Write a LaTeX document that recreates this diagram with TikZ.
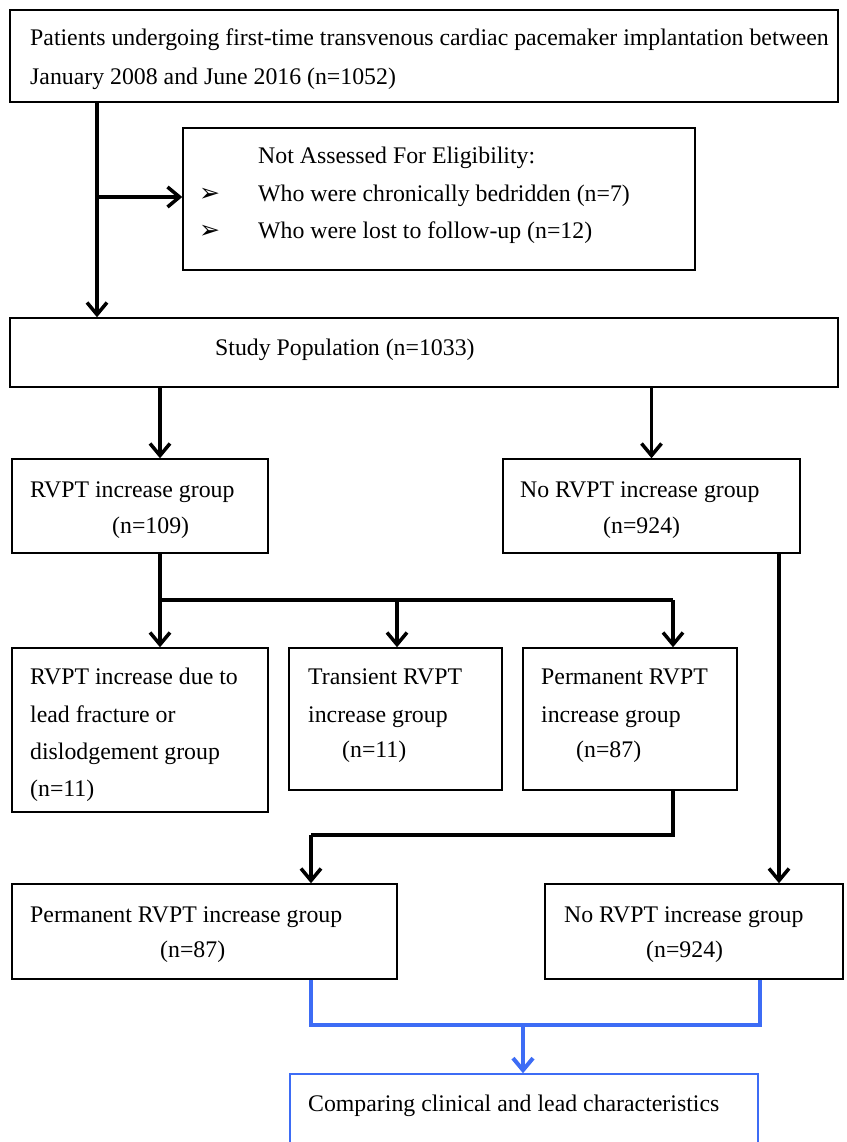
\documentclass[tikz,border=0pt]{standalone}
\usepackage{fontspec}
\setmainfont{Liberation Serif}
\newfontfamily\symfont{DejaVu Sans}
\usetikzlibrary{arrows.meta}
\definecolor{flowblue}{RGB}{61,108,245}
\begin{document}
\begin{tikzpicture}[x=1pt,y=-1pt,
  box/.style={draw=black,line width=1.5pt,inner sep=0pt,fill=white},
  txt/.style={anchor=base west,inner sep=0pt,font=\fontsize{23.8}{28}\selectfont},
  bul/.style={anchor=base west,inner sep=0pt,font=\symfont\fontsize{25}{28}\selectfont},
  arr/.style={line width=3.5pt,-{Straight Barb[length=12pt,width=20pt,line width=3.5pt]}},
  ln/.style={line width=3.5pt},
  barr/.style={line width=4pt,draw=flowblue,-{Straight Barb[length=12pt,width=20pt,line width=4pt]}},
  bln/.style={line width=4pt,draw=flowblue}]
\clip (0,0) rectangle (846,1142);
\fill[white] (0,0) rectangle (846,1142);

% boxes
\node[box,minimum width=828pt,minimum height=92pt] (b1) at (424,56) {};
\node[box,minimum width=512pt,minimum height=142pt] (b2) at (439,199) {};
\node[box,minimum width=828pt,minimum height=69pt] (b3) at (424,352.5) {};
\node[box,minimum width=256pt,minimum height=94pt] (rv) at (140,506) {};
\node[box,minimum width=297pt,minimum height=94pt] (norv) at (651.5,506) {};
\node[box,minimum width=256pt,minimum height=164pt] (ga) at (140,730) {};
\node[box,minimum width=213pt,minimum height=142pt] (gb) at (395.5,719) {};
\node[box,minimum width=214pt,minimum height=142pt] (gc) at (630,719) {};
\node[box,minimum width=385pt,minimum height=95pt] (gd) at (204.5,931.5) {};
\node[box,minimum width=298pt,minimum height=95pt] (ge) at (694,931.5) {};
\node[box,draw=flowblue,minimum width=468pt,minimum height=100pt] (gf) at (524,1124) {};

% texts
\node[txt] (t1a) at (30,46) {Patients undergoing first-time transvenous cardiac pacemaker implantation between};
\node[txt] (t1b) at (30,85) {January 2008 and June 2016 (n=1052)};
\node[txt] (t2a) at (258,164) {Not Assessed For Eligibility:};
\node[bul] (bu1) at (199,201) {➢};
\node[txt] (t2b) at (258,201) {Who were chronically bedridden (n=7)};
\node[bul] (bu2) at (199,238) {➢};
\node[txt] (t2c) at (258,238) {Who were lost to follow-up (n=12)};
\node[txt] (t3) at (215,355) {Study Population (n=1033)};
\node[txt] (trv1) at (30,497) {RVPT increase group};
\node[txt] (trv2) at (112,533) {(n=109)};
\node[txt] (tno1) at (520,497) {No RVPT increase group};
\node[txt] (tno2) at (603,533) {(n=924)};
\node[txt] (ta1) at (30,684) {RVPT increase due to};
\node[txt] (ta2) at (30,722) {lead fracture or};
\node[txt] (ta3) at (30,759) {dislodgement group};
\node[txt] (ta4) at (30,796) {(n=11)};
\node[txt] (tb1) at (308,684) {Transient RVPT};
\node[txt] (tb2) at (308,722) {increase group};
\node[txt] (tb3) at (342,757) {(n=11)};
\node[txt] (tc1) at (541,684) {Permanent RVPT};
\node[txt] (tc2) at (541,722) {increase group};
\node[txt] (tc3) at (576,757) {(n=87)};
\node[txt] (td1) at (30,922) {Permanent RVPT increase group};
\node[txt] (td2) at (160,957) {(n=87)};
\node[txt] (te1) at (564,922) {No RVPT increase group};
\node[txt] (te2) at (646,957) {(n=924)};
\node[txt] (tf) at (308,1111) {Comparing clinical and lead characteristics};

% connector coordinates
\coordinate (x97) at (97,0);
\coordinate (br1) at (97,197);
\coordinate (x160) at (160,0);
\coordinate (sp) at (160,600);
\coordinate (spr) at (673,600);
\coordinate (spm) at (397,600);
\coordinate (cdn) at (673,835);
\coordinate (cdl) at (311,835);
\coordinate (x779) at (779,0);
\coordinate (bl) at (311,1025);
\coordinate (brr) at (760,1025);
\coordinate (bm) at (523,1025);

% black connectors
\draw[arr] (b1.south -| x97) -- (b3.north -| x97);
\draw[arr] (br1) -- (br1 -| b2.west);
\draw[arr] (b3.south -| x160) -- (rv.north -| x160);
\draw[arr] (b3.south -| norv.north) -- (norv.north);
\draw[arr] (rv.south -| x160) -- (ga.north -| x160);
\draw[ln] (sp) -- (spr);
\draw[arr] (spm) -- (gb.north -| spm);
\draw[arr] (spr) -- (gc.north -| spr);
\draw[ln] (gc.south -| cdn) -- (cdn) -- (cdl);
\draw[arr] (cdl) -- (gd.north -| cdl);
\draw[arr] (norv.south -| x779) -- (ge.north -| x779);

% blue connectors
\draw[bln] (gd.south -| bl) -- (bl) -- (brr) -- (ge.south -| brr);
\draw[barr] (bm) -- (gf.north -| bm);
\end{tikzpicture}
\end{document}
